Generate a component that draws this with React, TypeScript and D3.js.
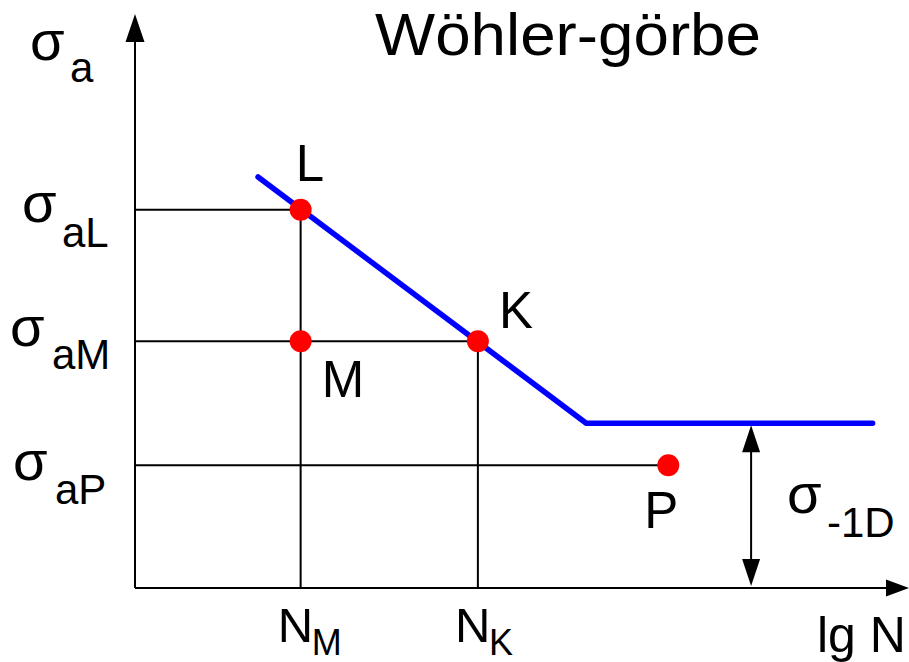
import React from "react";
import * as d3 from "d3";

// Wöhler (S–N) curve: stress amplitude vs. lg N, in schematic units
const curveX = [15.9, 58.3, 95.3];
const curveY = [71.6, 28.7, 28.7];

// Named points on the diagram
const pointNames = ["L", "M", "K", "P"];
const pointX = [21.4, 21.4, 44.3, 68.9];
const pointY = [65.9, 43.0, 43.0, 21.4];

// Reference levels on the stress axis and cycle counts on the lg N axis
const stressLabels = ["aL", "aM", "aP"];
const stressLevels = [65.9, 43.0, 21.4];
const stressEnds = [21.4, 44.3, 68.9];
const cycleLabels = ["M", "K"];
const cycleLevels = [21.4, 44.3];
const cycleTops = [65.9, 43.0];

// Endurance limit marker
const enduranceX = 79.6;
const enduranceLevel = 28.7;

const W = 909;
const H = 662;
const FONT = "'Liberation Sans', Arial, Helvetica, sans-serif";

const x = d3.scaleLinear().domain([0, 100]).range([135, 909]);
const y = d3.scaleLinear().domain([0, 100]).range([588, 14]);

function arrowHead(tx: number, ty: number, dir: "up" | "down" | "right", len: number, half: number) {
  const p = d3.path();
  p.moveTo(tx, ty);
  if (dir === "up") {
    p.lineTo(tx - half, ty + len);
    p.lineTo(tx + half, ty + len);
  } else if (dir === "down") {
    p.lineTo(tx - half, ty - len);
    p.lineTo(tx + half, ty - len);
  } else {
    p.lineTo(tx - len, ty - half);
    p.lineTo(tx - len, ty + half);
  }
  p.closePath();
  return p.toString();
}

export default function App() {
  const line = d3
    .line<number>()
    .x((_, i) => x(curveX[i]))
    .y((_, i) => y(curveY[i]));

  const x0 = x(0);
  const y0 = y(0);

  // label placement relative to each point (text left/baseline offsets)
  const labelOffset: Record<string, [number, number]> = {
    L: [-5, -29],
    M: [21, 56],
    K: [21, -13],
    P: [-24, 63],
  };
  const stressLabelPos = [
    { sx: 22, sy: 222, bx: 62, by: 247 },
    { sx: 10, sy: 346, bx: 52, by: 369 },
    { sx: 13, sy: 480, bx: 55, by: 504 },
  ];
  const SUB = 42;

  return (
    <svg
      width={W}
      height={H}
      style={{ position: "absolute", left: 0, top: 0, background: "#fff" }}
      fontFamily={FONT}
    >
      <rect width={W} height={H} fill="#fff" />

      {/* reference lines */}
      <g stroke="#000" strokeWidth={2} fill="none">
        {stressLevels.map((v, i) => (
          <line key={"h" + i} x1={x0} x2={x(stressEnds[i])} y1={y(v)} y2={y(v)} />
        ))}
        {cycleLevels.map((v, i) => (
          <line key={"v" + i} x1={x(v)} x2={x(v)} y1={y(cycleTops[i])} y2={y0} />
        ))}
      </g>

      {/* axes */}
      <g stroke="#000" strokeWidth={2}>
        <line x1={x0} x2={x0} y1={y0} y2={y(100) + 20} />
        <line x1={x0} x2={x(100) - 20} y1={y0} y2={y0} />
      </g>
      <path d={arrowHead(x0, y(100), "up", 28, 9.5)} fill="#000" />
      <path d={arrowHead(x(100), y0, "right", 23, 8.5)} fill="#000" />

      {/* endurance-limit dimension arrow */}
      <line
        x1={x(enduranceX)}
        x2={x(enduranceX)}
        y1={y(enduranceLevel) + 20}
        y2={y0 - 20}
        stroke="#000"
        strokeWidth={2}
      />
      <path d={arrowHead(x(enduranceX), y(enduranceLevel) + 2, "up", 27, 9)} fill="#000" />
      <path d={arrowHead(x(enduranceX), y0 - 2, "down", 27, 9)} fill="#000" />

      {/* Wöhler curve */}
      <path
        d={line(curveX) || ""}
        fill="none"
        stroke="#0000ff"
        strokeWidth={5.5}
        strokeLinecap="round"
        strokeLinejoin="round"
      />

      {/* points */}
      {pointNames.map((n, i) => (
        <circle key={n} cx={x(pointX[i])} cy={y(pointY[i])} r={11} fill="#ff0000" />
      ))}
      {pointNames.map((n, i) => (
        <text
          key={"t" + n}
          x={x(pointX[i]) + labelOffset[n][0]}
          y={y(pointY[i]) + labelOffset[n][1]}
          fontSize={51}
          fill="#000"
        >
          {n}
        </text>
      ))}

      {/* title */}
      <text
        x={375}
        y={55}
        fontSize={60}
        fill="#000"
        textLength={386}
        lengthAdjust="spacingAndGlyphs"
      >
        Wöhler-görbe
      </text>

      {/* stress axis label */}
      <text x={30} y={60} fontSize={56} fill="#000">σ</text>
      <text x={70} y={82} fontSize={SUB} fill="#000">a</text>

      {/* stress level labels */}
      {stressLabels.map((s, i) => (
        <g key={s}>
          <text x={stressLabelPos[i].sx} y={stressLabelPos[i].sy} fontSize={56} fill="#000">σ</text>
          <text x={stressLabelPos[i].bx} y={stressLabelPos[i].by} fontSize={SUB} fill="#000">{s}</text>
        </g>
      ))}

      {/* cycle labels */}
      {cycleLabels.map((c, i) => (
        <g key={c}>
          <text x={x(cycleLevels[i]) - 23} y={642} fontSize={49} fill="#000">N</text>
          <text x={x(cycleLevels[i]) + 11} y={655} fontSize={36} fill="#000">{c}</text>
        </g>
      ))}

      {/* endurance limit label */}
      <text x={787} y={513} fontSize={56} fill="#000">σ</text>
      <text x={827} y={537} fontSize={SUB} fill="#000">-1D</text>

      {/* lg N axis label */}
      <text x={817} y={652} fontSize={50} fill="#000">lg N</text>
    </svg>
  );
}
